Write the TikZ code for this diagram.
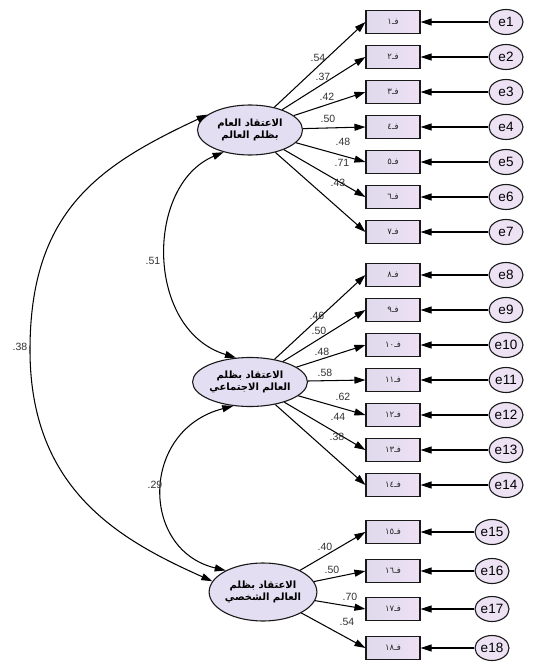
\documentclass[tikz,border=0pt]{standalone}
\usepackage{fontspec}
\setmainfont{Liberation Sans}
\newfontfamily\arabicfont[Script=Arabic]{DejaVu Sans}
\TeXXeTstate=1
\usetikzlibrary{arrows.meta,shapes.geometric}
\definecolor{boxL}{RGB}{222,218,236}
\definecolor{boxR}{RGB}{238,224,244}
\definecolor{errfill}{RGB}{236,226,244}
\definecolor{latfill}{RGB}{228,222,242}
\definecolor{numcol}{RGB}{50,50,50}
\tikzset{
  obs/.style={draw=black!90, line width=1.1pt, minimum width=54pt, minimum height=23pt,
    inner sep=0pt, left color=boxL, right color=boxR, text=black!85,
    font=\arabicfont\fontsize{8.5}{9}\selectfont},
  err/.style={ellipse, draw=black!90, line width=1.1pt, minimum width=34pt, minimum height=25pt,
    inner sep=0pt, fill=errfill, font=\fontsize{13.5}{14}\selectfont},
  lat/.style={ellipse, draw=black!90, line width=1.1pt, inner sep=0pt, fill=latfill,
    align=center, font=\arabicfont\bfseries\fontsize{10}{12.5}\selectfont},
  load/.style={-{Triangle[length=11pt,width=7pt]}, line width=1.05pt},
  cov/.style={{Triangle[length=11pt,width=7pt]}-{Triangle[length=11pt,width=7pt]}, line width=1.05pt},
  num/.style={font=\fontsize{10.5}{11}\selectfont, text=numcol, inner sep=0pt}
}
\begin{document}
\begin{tikzpicture}[x=1pt,y=-1pt]
\useasboundingbox (0,0) rectangle (533,666);
% latent variables
\node[lat, minimum width=105pt, minimum height=50pt] (F1) at (250,130)
  {\beginR الاعتقاد العام\endR\\\beginR بظلم العالم\endR};
\node[lat, minimum width=106pt, minimum height=49pt] (F2) at (250,382)
  {\beginR الاعتقاد بظلم\endR\\\beginR العالم الاجتماعي\endR};
\node[lat, minimum width=95pt, minimum height=58pt] (F3) at (263,592)
  {\beginR الاعتقاد بظلم\endR\\\beginR العالم الشخصي\endR};
% observed variables and errors
\foreach \ii/\yy/\dd in {1/22/١,2/57/٢,3/92/٣,4/127/٤,5/162/٥,6/197/٦,7/232/٧,
  8/275/٨,9/310/٩,10/345/١٠,11/380/١١,12/415/١٢,13/450/١٣,14/485/١٤}{
  \node[obs] (f\ii) at (393,\yy) {\beginR فـ\dd\endR};
  \node[err] (e\ii) at (506,\yy) {e\ii};
  \draw[load] (e\ii) -- (f\ii);
}
\foreach \ii/\yy/\dd in {15/532/١٥,16/571/١٦,17/609/١٧,18/648/١٨}{
  \node[obs] (f\ii) at (393,\yy) {\beginR فـ\dd\endR};
  \node[err] (e\ii) at (492,\yy) {e\ii};
  \draw[load] (e\ii) -- (f\ii);
}
% loadings
\foreach \ii in {1,...,7}{\draw[load] (F1) -- (f\ii.west);}
\foreach \ii in {8,...,14}{\draw[load] (F2) -- (f\ii.west);}
\foreach \ii in {15,...,18}{\draw[load] (F3) -- (f\ii.west);}
% loading labels
\node[num] (l1) at (318,58) {.54};
\node[num] (l2) at (323,77) {.37};
\node[num] (l3) at (327,97) {.42};
\node[num] (l4) at (328,119) {.50};
\node[num] (l5) at (343,142) {.48};
\node[num] (l6) at (342,163) {.71};
\node[num] (l7) at (338,183) {.43};
\node[num] (l8) at (317,316) {.46};
\node[num] (l9) at (319,331) {.50};
\node[num] (l10) at (322,352) {.48};
\node[num] (l11) at (325,373) {.58};
\node[num] (l12) at (343,397) {.62};
\node[num] (l13) at (338,417) {.44};
\node[num] (l14) at (337,437) {.38};
\node[num] (l15) at (325,547) {.40};
\node[num] (l16) at (332,570) {.50};
\node[num] (l17) at (350,597) {.70};
\node[num] (l18) at (347,622) {.54};
% covariances
\draw[cov] (F1.220) .. controls (145,185) and (145,330) .. (F2.120);
\draw[cov] (F2.235) .. controls (140,430) and (140,550) .. (F3.150);
\draw[cov] (F1.160) .. controls (100,165) and (30,210) .. (30,350)
  .. controls (30,490) and (120,540) .. (F3.168);
\node[num] (c1) at (153,261) {.51};
\node[num] (c2) at (155,485) {.29};
\node[num] (c3) at (20,347) {.38};
\end{tikzpicture}
\end{document}
